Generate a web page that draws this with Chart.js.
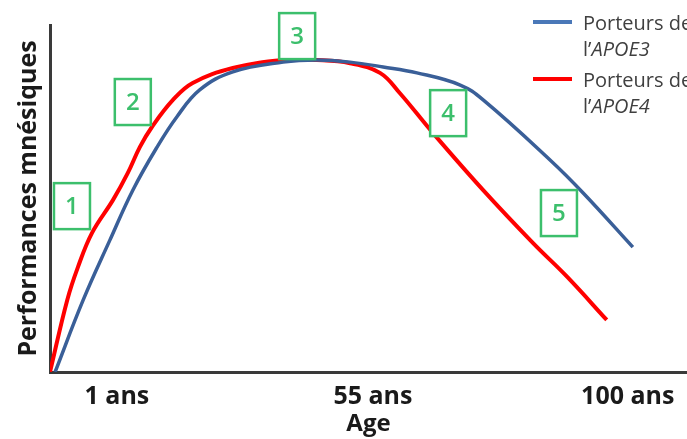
<!DOCTYPE html>
<html>
<head>
<meta charset="utf-8">
<script src="https://cdn.jsdelivr.net/npm/chart.js@4.4.0/dist/chart.umd.min.js"></script>
<style>
  body { margin: 0; background: #fff; }
  #wrap { width: 687px; height: 439px; }
</style>
</head>
<body>
<div id="wrap"><canvas id="ageChart"></canvas></div>
<script>
// x: position along the age axis (0-100), y: memory performance (0-100)
const apoe3X = [0.8, 5.2, 9.4, 13.0, 16.8, 19.9, 23.5, 28.7, 36.6, 41.9, 47.1, 52.3, 57.6, 64.4, 68.0, 78.5, 83.7, 91.5];
const apoe3Y = [0, 20.7, 38.0, 52.4, 64.8, 73.5, 81.3, 86.5, 89.3, 89.9, 89.3, 87.9, 86.2, 82.7, 78.4, 61.1, 51.6, 36.0];

const apoe4X = [0, 2.7, 4.4, 6.6, 9.9, 12.2, 14.1, 16.0, 19.3, 22.4, 28.7, 36.6, 41.9, 47.1, 51.8, 54.9, 60.1, 68.0, 75.8, 81.2, 87.4];
const apoe4Y = [0, 20.7, 30.3, 40.1, 49.6, 57.3, 64.8, 70.6, 78.4, 83.3, 87.6, 89.9, 89.9, 89.0, 86.2, 80.4, 68.9, 52.4, 37.2, 27.4, 15.0];

const tickPos = [10.5, 50.7, 90.7];
const tickLabels = ['1 ans', '55 ans', '100 ans'];

// numbered boxes (stage markers)
const stageLabels = ['1', '2', '3', '4', '5'];
const stageX = [3.45, 13.0, 38.8, 62.5, 79.9];
const stageY = [47.8, 77.8, 96.8, 74.6, 45.8];

const BLUE = '#3a5f98';
const RED = '#ff0000';
const GREEN = '#3cbf6c';

function toPoints(xs, ys) {
  return xs.map((x, i) => ({ x: x, y: ys[i] }));
}

const extras = {
  id: 'extras',
  afterDraw(chart) {
    const ctx = chart.ctx;
    const xs = chart.scales.x, ys = chart.scales.y;
    ctx.save();

    // green boxes
    stageLabels.forEach((lab, i) => {
      const cx = xs.getPixelForValue(stageX[i]);
      const cy = ys.getPixelForValue(stageY[i]);
      ctx.fillStyle = '#fff';
      ctx.fillRect(cx - 18, cy - 23, 36, 46);
      ctx.strokeStyle = GREEN;
      ctx.lineWidth = 2.5;
      ctx.strokeRect(cx - 18, cy - 23, 36, 46);
      ctx.fillStyle = GREEN;
      ctx.font = '600 24px "Open Sans"';
      ctx.textAlign = 'center';
      ctx.textBaseline = 'middle';
      ctx.fillText(lab, cx, cy + 1);
    });

    // legend
    const items = [
      { color: '#4a78b8', gene: 'APOE3', y: 24 },
      { color: RED, gene: 'APOE4', y: 81 }
    ];
    ctx.textAlign = 'left';
    ctx.textBaseline = 'middle';
    items.forEach(it => {
      ctx.strokeStyle = it.color;
      ctx.lineWidth = 4;
      ctx.beginPath();
      ctx.moveTo(533, it.y - 2);
      ctx.lineTo(572, it.y - 2);
      ctx.stroke();
      ctx.fillStyle = '#404040';
      ctx.font = '20px "Open Sans"';
      ctx.fillText('Porteurs de', 583, it.y);
      ctx.fillText('l\u2019', 583, it.y + 26);
      const w = ctx.measureText('l\u2019').width;
      ctx.font = 'italic 20px "Open Sans"';
      ctx.fillText(it.gene, 583 + w, it.y + 26);
    });
    ctx.restore();
  }
};

new Chart(document.getElementById('ageChart'), {
  type: 'line',
  data: {
    datasets: [
      {
        label: "Porteurs de l'APOE3",
        data: toPoints(apoe3X, apoe3Y),
        borderColor: BLUE,
        borderWidth: 3.5,
        pointRadius: 0,
        tension: 0.4,
        fill: false
      },
      {
        label: "Porteurs de l'APOE4",
        data: toPoints(apoe4X, apoe4Y),
        borderColor: RED,
        borderWidth: 4,
        pointRadius: 0,
        tension: 0.4,
        fill: false
      }
    ]
  },
  options: {
    responsive: true,
    maintainAspectRatio: false,
    animation: false,
    layout: { padding: { top: 25, right: 0, left: 0, bottom: 0 } },
    plugins: {
      legend: { display: false },
      tooltip: { enabled: false }
    },
    scales: {
      x: {
        type: 'linear',
        min: 0,
        max: 100,
        grid: { display: false, drawTicks: false },
        border: { display: true, color: '#3a3a3a', width: 3 },
        afterBuildTicks: (scale) => { scale.ticks = tickPos.map(v => ({ value: v })); },
        afterFit: (scale) => { scale.height = 67; },
        ticks: {
          padding: 10,
          maxRotation: 0,
          autoSkip: false,
          color: '#1a1a1a',
          font: { family: '"Open Sans"', size: 25, weight: 'bold' },
          callback: (v, i) => tickLabels[i]
        },
        title: {
          display: true,
          text: 'Age',
          color: '#1a1a1a',
          padding: { top: 3, bottom: 0 },
          font: { family: '"Open Sans"', size: 24, weight: 'bold' }
        }
      },
      y: {
        min: 0,
        max: 100,
        grid: { display: false, drawTicks: false },
        border: { display: true, color: '#3a3a3a', width: 3 },
        afterFit: (scale) => { scale.width = 50; },
        ticks: { display: false },
        title: {
          display: true,
          text: 'Performances mnésiques',
          color: '#1a1a1a',
          padding: { top: 14, bottom: 0 },
          font: { family: '"Open Sans"', size: 25, weight: 'bold' }
        }
      }
    }
  },
  plugins: [extras]
});
</script>
</body>
</html>
